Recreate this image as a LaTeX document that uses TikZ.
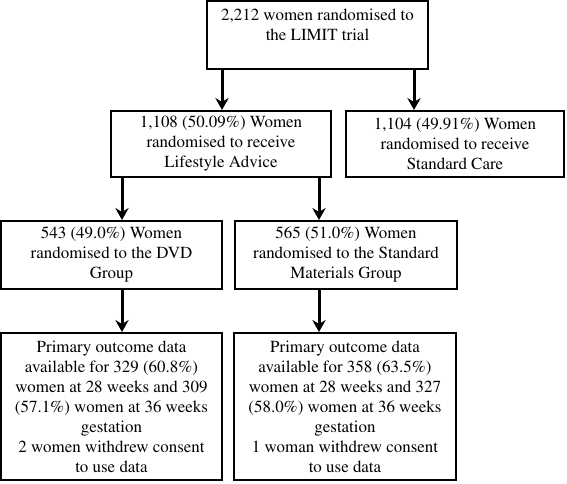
\documentclass[tikz,border=0pt]{standalone}
\usepackage[T1]{fontenc}
\usepackage{times}
\usetikzlibrary{arrows.meta,calc}

\begin{document}
\begin{tikzpicture}[x=0.75pt,y=-0.75pt,
		box/.style={draw,line width=1.5pt,align=center,inner sep=0pt,
			font=\fontsize{12.7}{15}\selectfont},
		arr/.style={line width=2.25pt,-{Stealth[length=9pt,width=10pt,inset=3pt]}}]
		\useasboundingbox (0,0) rectangle (567,484);
		\node[box,minimum width=165.75pt,minimum height=51pt] (top) at (317.5,35) {2,212 women randomised to\\the LIMIT trial\\\mbox{}};
		\node[box,minimum width=165pt,minimum height=49.5pt] (life) at (221,144) {1,108 (50.09\%) Women\\randomised to receive\\Lifestyle Advice};
		\node[box,minimum width=163.5pt,minimum height=49.5pt] (std) at (455,144) {1,104 (49.91\%) Women\\randomised to receive\\Standard Care};
		\node[box,minimum width=165.75pt,minimum height=51pt] (dvd) at (111.5,255) {543 (49.0\%) Women\\randomised to the DVD\\Group};
		\node[box,minimum width=166.5pt,minimum height=51pt] (mat) at (346,255) {565 (51.0\%) Women\\randomised to the Standard\\Materials Group};
		\node[box,minimum width=165.75pt,minimum height=110.25pt] (outA) at (111.5,406.5) {Primary outcome data\\available for 329 (60.8\%)\\women at 28 weeks and 309\\(57.1\%) women at 36 weeks\\gestation\\2 women withdrew consent\\to use data};
		\node[box,minimum width=166.5pt,minimum height=110.25pt] (outB) at (345,406.5) {Primary outcome data\\available for 358 (63.5\%)\\women at 28 weeks and 327\\(58.0\%) women at 36 weeks\\gestation\\1 woman withdrew consent\\to use data};
		\coordinate (a1) at ($(top.south west)+(16,0)$);
		\coordinate (a2) at ($(top.south east)+(-15,0)$);
		\coordinate (a3) at ($(life.south west)+(12,0)$);
		\coordinate (a4) at ($(life.south east)+(-13,0)$);
		\draw[arr] (a1) -- (a1 |- life.north);
		\draw[arr] (a2) -- (a2 |- std.north);
		\draw[arr] (a3) -- (a3 |- dvd.north);
		\draw[arr] (a4) -- (a4 |- mat.north);
		\draw[arr] (a3 |- dvd.south) -- (a3 |- outA.north);
		\draw[arr] (a4 |- mat.south) -- (a4 |- outB.north);
	\end{tikzpicture}
\end{document}
